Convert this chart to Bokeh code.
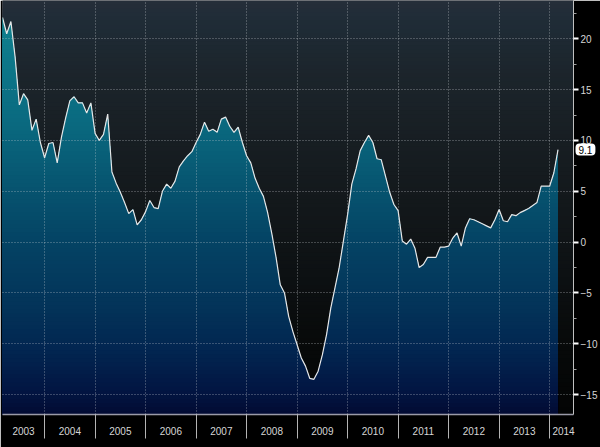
import numpy as np
from bokeh.plotting import figure
from bokeh.models import FixedTicker, Range1d, LinearAxis, Grid, Label
from bokeh.embed import file_html
from bokeh.resources import INLINE

# ---------------- data ----------------
start_year = 2003
start_month = 3          # first observation: March 2003, monthly to March 2014
values = [
    22.1, 20.5, 21.7, 18.2, 13.5, 14.6, 14.0, 11.0, 12.1, 9.8,            # 2003 Mar-Dec
    8.3, 9.7, 9.8, 7.8, 10.3, 12.2, 13.9, 14.3, 13.7, 13.7, 12.7, 13.7,   # 2004
    10.7, 10.0, 10.6, 12.6, 6.9, 5.8, 4.9, 3.9, 2.8, 3.2, 1.7, 2.2,       # 2005
    3.0, 4.1, 3.4, 3.3, 5.0, 5.7, 5.3, 6.0, 7.4, 8.0, 8.5, 8.9,           # 2006
    9.8, 10.6, 11.8, 10.9, 11.1, 10.8, 12.1, 12.3, 11.4, 10.8, 11.3, 9.8, # 2007
    8.5, 7.8, 6.3, 5.3, 4.5, 2.9, 0.8, -1.5, -4.2, -5.0, -7.3, -8.8,      # 2008
    -10.1, -11.4, -12.2, -13.4, -13.5, -12.7, -11.1, -9.1, -6.5, -4.5, -2.5, 0.1,  # 2009
    2.7, 5.7, 7.2, 9.0, 9.8, 10.5, 9.8, 8.2, 8.1, 6.5, 4.9, 3.7,          # 2010
    3.1, 0.1, -0.2, 0.3, -0.6, -2.5, -2.2, -1.5, -1.5, -1.5, -0.5, -0.5,  # 2011
    -0.4, 0.4, 0.9, -0.4, 1.4, 2.3, 2.2, 2.0, 1.8, 1.6, 1.4, 2.2,         # 2012
    3.2, 2.1, 2.0, 2.7, 2.6, 2.9, 3.1, 3.3, 3.6, 3.9, 5.5, 5.5,           # 2013
    5.5, 6.8, 9.1,                                                        # 2014 Jan-Mar
]
years = list(range(2003, 2015))
year_labels = [str(y) for y in years]
y_ticks = [-15, -10, -5, 0, 5, 10, 15, 20]
last_label = "9.1"

# ---------------- derived ----------------
t = np.array([start_year + (start_month - 1 + k) / 12.0 for k in range(len(values))])
v = np.array(values, dtype=float)

X0, X1 = t[0], 2014.473
Y0, Y1 = -16.96, 23.77
PX_PER_YEAR = 574.0 / (X1 - X0)

p = figure(width=600, height=447, output_backend="svg", toolbar_location=None,
           x_range=Range1d(X0, X1), y_range=Range1d(Y0, Y1),
           x_axis_location=None, y_axis_location=None,
           min_border_left=2, min_border_right=24, min_border_top=0, min_border_bottom=33,
           background_fill_color="#101418", border_fill_color="#000000",
           outline_line_color=None)
p.xgrid.visible = False
p.ygrid.visible = False


def lerp_color(stops, val):
    vals = [s[0] for s in stops]
    cols = [tuple(int(s[1][i:i + 2], 16) for i in (1, 3, 5)) for s in stops]
    if val >= vals[0]:
        c = cols[0]
    elif val <= vals[-1]:
        c = cols[-1]
    else:
        for i in range(len(vals) - 1):
            if vals[i] >= val >= vals[i + 1]:
                f = (vals[i] - val) / (vals[i] - vals[i + 1])
                c = tuple(cols[i][j] + f * (cols[i + 1][j] - cols[i][j]) for j in range(3))
                break
    return "#%02x%02x%02x" % tuple(int(round(x)) for x in c)


bg_stops = [(23.77, "#262e39"), (21.8, "#1f2c37"), (16.9, "#1c252c"), (10.9, "#181f24"),
            (4.0, "#13181b"), (-2.9, "#0d1113"), (-10.7, "#070909"), (-17.06, "#030404")]
fill_stops = [(23.77, "#12858f"), (17.8, "#0d7789"), (11.9, "#0a6a80"), (6.0, "#075671"),
              (0.0, "#044364"), (-5.8, "#03355a"), (-10.8, "#022550"), (-14.7, "#021542"),
              (-17.06, "#020a32")]

step = 0.4
tops = np.arange(Y1, Y0, -step)  # descending band tops

# background bands (stacked, top band drawn first)
p.quad(left=X0, right=X1, bottom=Y0, top=tops,
       fill_color=[lerp_color(bg_stops, h - step / 2) for h in tops], line_color=None)

# refine the line at band levels so clipping is exact
xs, vs = [t[0]], [v[0]]
for i in range(len(t) - 1):
    a, b = v[i], v[i + 1]
    lo, hi = min(a, b), max(a, b)
    ts = sorted((L - a) / (b - a) for L in tops if lo < L < hi)
    for f in ts:
        xs.append(t[i] + f * (t[i + 1] - t[i]))
        vs.append(a + f * (b - a))
    xs.append(t[i + 1])
    vs.append(b)
xs, vs = np.array(xs), np.array(vs)

px, py, pc = [], [], []
for h in tops:
    yy = np.minimum(vs, h)
    px.append(list(xs) + [xs[-1], xs[0]])
    py.append(list(yy) + [Y0, Y0])
    pc.append(lerp_color(fill_stops, h - step / 2))
p.patches(xs=px, ys=py, fill_color=pc, line_color=None)

# main line
p.line(t, v, line_color="#e6e6e6", line_width=1.2)

# grids (dotted, drawn on top of the area)
boundaries = [float(y) for y in years[1:]]
xg = Grid(dimension=0, ticker=FixedTicker(ticks=boundaries), grid_line_color="#d0d4d8",
          grid_line_alpha=0.55, grid_line_dash="1 2", grid_line_width=1, level="overlay")
yg = Grid(dimension=1, ticker=FixedTicker(ticks=y_ticks), grid_line_color="#d0d4d8",
          grid_line_alpha=0.55, grid_line_dash="1 2", grid_line_width=1, level="overlay")
p.add_layout(xg)
p.add_layout(yg)

# bottom axis: separators at year starts, labels centred in visible span
label_pos = []
for y in years:
    a = max(float(y), X0)
    b = min(float(y + 1), X1)
    label_pos.append((a + b) / 2)
label_pos[-1] = X1 - 10.0 / PX_PER_YEAR   # last (partial) year label hugs the right edge
xaxis = LinearAxis(ticker=FixedTicker(ticks=label_pos, minor_ticks=boundaries),
                   major_label_overrides={lp: lab for lp, lab in zip(label_pos, year_labels)},
                   axis_line_color="#9a9aa8", axis_line_width=1.5,
                   major_tick_line_color=None, major_tick_out=0, major_tick_in=0,
                   minor_tick_line_color="#b4b4b4", minor_tick_out=24, minor_tick_in=0,
                   major_label_standoff=-12,
                   major_label_text_color="#d6d6d6", major_label_text_font="Liberation Sans",
                   major_label_text_font_size="10px")
p.add_layout(xaxis, "below")

minor_y = [m + 2.5 for m in range(-20, 25, 5) if Y0 < m + 2.5 < Y1]
yaxis = LinearAxis(ticker=FixedTicker(ticks=y_ticks, minor_ticks=minor_y),
                   axis_line_color="#c0c0c0", axis_line_width=1,
                   major_tick_line_color="#ffffff", major_tick_line_width=2,
                   major_tick_out=5, major_tick_in=0,
                   minor_tick_line_color="#a0a0a0", minor_tick_out=3, minor_tick_in=0,
                   major_label_standoff=2,
                   major_label_text_color="#d6d6d6", major_label_text_font="Liberation Sans",
                   major_label_text_font_size="10px")
p.add_layout(yaxis, "right")

# last value tag: placed in a side panel so it is not clipped to the frame;
# its position still comes from the data scales. A thick white border enlarges the box.
p.add_layout(Label(x=X1, y=v[-1], x_offset=4, text=last_label,
                   text_align="left", text_baseline="middle", text_font="Liberation Sans",
                   text_font_size="10px", text_color="#000000", text_line_height=1.2,
                   background_fill_color="#ffffff", border_line_color="#ffffff",
                   border_line_width=4, padding=(1, 0), border_radius=2), "below")

open("out.html", "w").write(file_html(p, INLINE))
